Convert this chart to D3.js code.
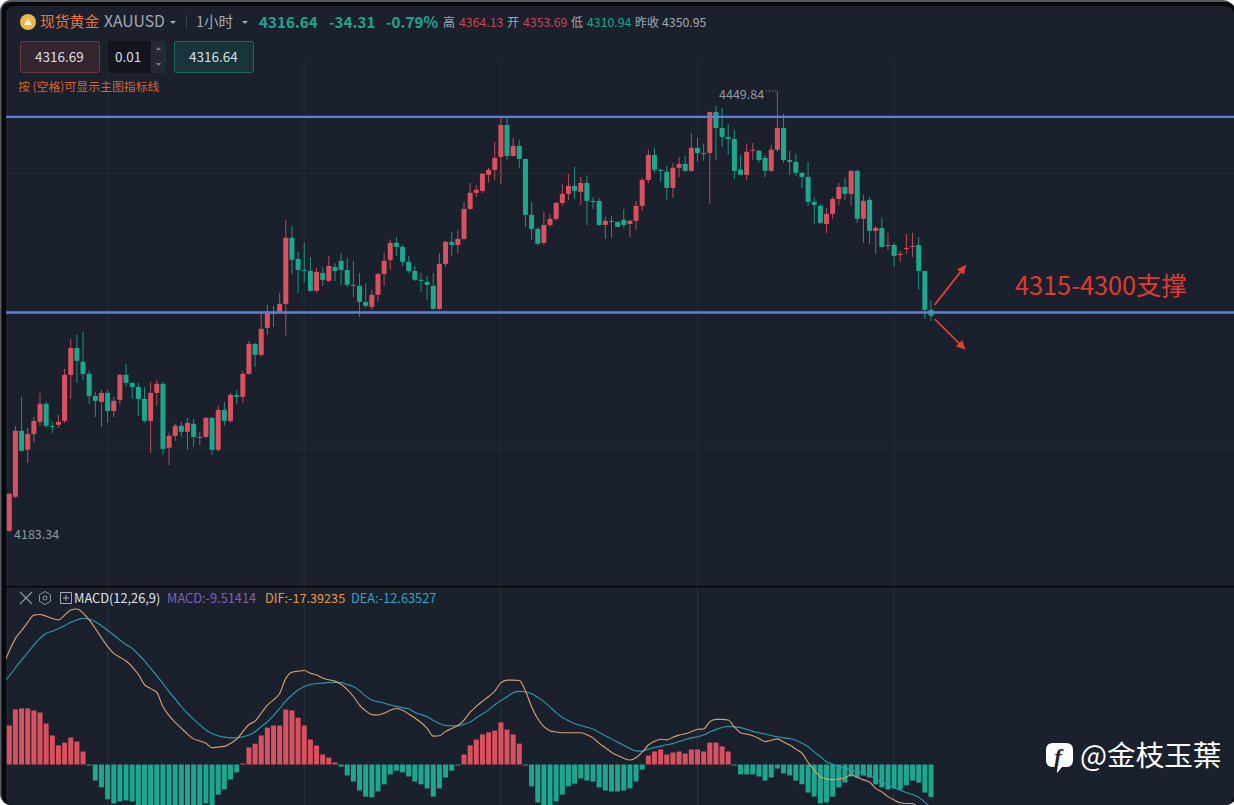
<!DOCTYPE html>
<html>
<head>
<meta charset="utf-8">
<script src="https://cdn.jsdelivr.net/npm/d3@7"></script>
<style>
html, body { margin: 0; padding: 0; background: #ffffff; overflow: hidden; }
svg { display: block; font-family: "Noto Sans CJK SC", "Noto Sans", sans-serif; }
</style>
</head>
<body>
<svg></svg>
<script>
// XAUUSD 1h candles, one value per bar
var opens = [
  4184.0,4204.6,4244.5,4233.0,4242.6,4249.9,4260.8,4247.5,4248.1,4250.5,
  4278.3,4294.6,4286.2,4278.9,4265.6,4262.0,4267.4,4256.5,4263.2,4278.3,
  4273.5,4271.0,4263.8,4250.5,4267.4,4272.9,4234.2,4241.4,4247.5,4243.9,
  4248.7,4240.2,4240.8,4252.3,4233.0,4257.1,4250.5,4266.2,4265.0,4278.9,
  4297.0,4290.4,4306.7,4315.2,4316.4,4321.2,4361.1,4348.4,4341.7,4341.1,
  4329.1,4339.9,4335.1,4343.5,4347.2,4341.7,4332.7,4332.1,4322.4,4319.4,
  4326.7,4339.3,4347.8,4358.1,4355.6,4346.6,4341.1,4335.7,4334.5,4332.1,
  4318.2,4345.4,4358.7,4356.8,4360.5,4378.6,4388.3,4389.5,4399.2,4402.2,
  4410.0,4429.3,4410.6,4416.7,4408.8,4375.0,4366.5,4358.1,4368.9,4372.6,
  4382.2,4387.7,4392.5,4388.9,4394.3,4383.4,4383.4,4368.9,4371.4,4370.8,
  4372.0,4369.5,4371.4,4380.4,4396.1,4411.2,4402.2,4401.0,4391.3,4403.4,
  4405.8,4401.6,4415.5,4412.4,4412.4,4437.2,4427.5,4422.1,4420.9,4402.2,
  4399.2,4413.7,4413.7,4409.4,4401.6,4414.3,4427.5,4408.2,4407.0,4400.4,
  4397.9,4382.8,4380.4,4369.5,4375.6,4384.6,4391.9,4387.7,4401.6,4372.6,
  4384.0,4365.3,4367.1,4356.2,4356.8,4350.8,4354.4,4355.6,4356.8,4341.1,
  4317.6];
var closes = [
  4206.4,4244.5,4232.4,4242.6,4250.5,4260.8,4247.5,4246.9,4249.9,4278.3,
  4294.6,4286.8,4278.9,4265.6,4262.6,4267.4,4256.5,4262.6,4278.3,4273.5,
  4271.0,4263.8,4250.5,4267.4,4272.9,4233.6,4241.4,4247.5,4243.9,4249.3,
  4240.8,4240.8,4252.3,4233.0,4257.1,4250.5,4266.2,4265.0,4278.9,4297.0,
  4290.4,4306.1,4316.4,4316.4,4321.2,4361.1,4347.8,4341.7,4341.1,4329.1,
  4340.5,4335.7,4344.1,4341.1,4341.7,4332.7,4332.1,4322.4,4320.0,4326.7,
  4339.3,4347.2,4358.1,4355.6,4346.6,4341.1,4335.7,4335.1,4332.7,4318.2,
  4345.4,4358.7,4356.8,4360.5,4378.6,4388.3,4390.1,4399.8,4402.2,4409.4,
  4429.3,4410.6,4416.7,4408.8,4375.0,4366.5,4357.5,4368.9,4372.6,4382.2,
  4387.7,4392.5,4389.5,4394.3,4383.4,4382.8,4368.9,4371.4,4370.8,4367.7,
  4368.9,4371.4,4380.4,4396.1,4411.2,4402.2,4401.6,4391.3,4403.4,4405.8,
  4401.6,4415.5,4412.4,4411.8,4437.2,4427.5,4422.1,4420.9,4401.6,4399.2,
  4413.1,4414.3,4408.2,4401.6,4414.3,4427.5,4408.2,4407.0,4400.4,4397.9,
  4382.8,4381.0,4370.1,4375.6,4384.6,4391.9,4387.7,4401.6,4372.6,4383.4,
  4365.3,4367.1,4355.6,4356.8,4350.2,4351.4,4355.0,4356.2,4341.1,4317.6,
  4314.0];
var highs = [
  4207.0,4247.5,4265.0,4246.3,4252.9,4267.4,4262.0,4249.9,4254.1,4281.9,
  4300.0,4302.5,4304.3,4280.7,4268.0,4269.2,4269.2,4265.0,4278.9,4284.9,
  4273.5,4273.5,4271.0,4274.1,4275.3,4274.1,4243.3,4248.7,4249.9,4252.3,
  4251.7,4243.9,4252.9,4252.9,4259.6,4262.0,4267.4,4269.2,4280.7,4298.8,
  4297.6,4315.8,4320.6,4320.0,4327.9,4372.0,4368.3,4352.6,4358.1,4349.6,
  4342.9,4343.5,4350.2,4346.0,4352.0,4349.0,4347.2,4339.9,4333.3,4329.7,
  4339.9,4352.0,4359.9,4361.7,4356.8,4350.2,4344.1,4339.9,4338.1,4339.9,
  4352.0,4359.3,4364.7,4365.9,4382.8,4394.3,4393.1,4400.4,4403.4,4419.1,
  4434.2,4433.6,4421.5,4420.3,4408.8,4382.8,4367.7,4376.8,4375.6,4382.8,
  4393.7,4399.8,4404.0,4397.9,4398.5,4385.8,4385.2,4373.8,4374.4,4370.8,
  4378.6,4372.0,4383.4,4397.3,4414.3,4415.5,4402.8,4404.6,4406.4,4410.0,
  4410.6,4424.5,4421.5,4417.9,4437.2,4440.8,4439.6,4430.0,4426.3,4411.2,
  4417.9,4418.5,4414.3,4411.2,4417.3,4449.84,4436.0,4413.7,4411.8,4401.0,
  4407.0,4385.2,4381.6,4379.2,4385.8,4394.3,4397.3,4402.2,4402.2,4387.1,
  4385.8,4368.3,4373.2,4364.1,4358.1,4353.2,4363.5,4364.1,4361.7,4341.1,
  4323.0];
var lows = [
  4183.34,4204.0,4231.8,4225.1,4237.2,4247.5,4246.3,4243.3,4246.3,4249.3,
  4263.8,4273.5,4275.3,4260.8,4252.9,4246.9,4249.3,4252.9,4260.2,4271.0,
  4263.8,4253.5,4249.3,4231.2,4259.6,4230.0,4223.9,4238.4,4240.8,4233.0,
  4234.8,4236.0,4240.2,4230.0,4231.8,4247.5,4249.3,4260.8,4261.4,4278.3,
  4283.1,4289.2,4302.5,4307.3,4315.8,4301.9,4339.3,4327.9,4333.9,4328.5,
  4327.9,4332.1,4334.5,4335.1,4332.7,4331.5,4325.4,4313.3,4318.8,4317.6,
  4322.4,4332.1,4341.7,4350.2,4344.1,4339.9,4335.1,4328.5,4323.6,4317.6,
  4317.6,4343.5,4350.2,4352.0,4359.9,4378.0,4385.8,4388.3,4394.3,4396.1,
  4393.7,4408.2,4410.0,4403.4,4367.7,4359.9,4356.8,4356.8,4367.7,4371.4,
  4380.4,4384.0,4384.6,4381.0,4368.9,4378.6,4368.3,4360.5,4361.1,4367.7,
  4367.1,4361.7,4365.9,4377.4,4394.3,4400.4,4394.9,4384.0,4385.2,4397.9,
  4401.0,4401.0,4407.0,4407.6,4381.6,4408.2,4416.1,4411.2,4396.7,4399.2,
  4396.1,4408.2,4406.4,4397.9,4401.0,4413.1,4406.4,4399.2,4398.5,4391.3,
  4380.4,4369.5,4369.5,4364.1,4372.6,4381.0,4384.0,4380.4,4370.1,4358.1,
  4357.5,4351.4,4355.0,4353.8,4343.5,4346.6,4351.4,4349.6,4329.7,4312.1,
  4310.94];

// MACD histogram, one value per bar
var macdBars = [
  11.4,16.1,16.4,16.4,15.8,15.2,12.0,8.5,5.6,6.4,
  7.9,6.7,3.8,-0.3,-4.7,-6.7,-10.2,-11.4,-10.8,-10.5,
  -10.8,-12.3,-12.9,-13.5,-13.5,-13.7,-14.0,-14.6,-14.6,-14.0,
  -13.5,-12.9,-11.4,-12.0,-8.8,-7.3,-4.4,-2.3,0.3,5.0,
  6.1,8.5,10.8,11.4,11.4,16.1,15.8,13.7,11.4,7.3,
  5.6,2.9,2.0,0.6,-0.6,-3.2,-5.0,-7.6,-9.4,-9.6,
  -7.9,-5.8,-2.9,-1.8,-2.3,-3.5,-5.0,-5.8,-7.0,-9.4,
  -7.0,-3.8,-1.8,-0.3,2.9,5.6,7.3,8.8,9.4,9.9,
  12.3,10.2,8.8,6.1,-0.3,-6.4,-11.1,-12.0,-12.3,-10.8,
  -8.8,-6.4,-5.6,-4.1,-4.7,-5.0,-6.7,-7.6,-7.9,-7.9,
  -7.6,-7.0,-5.0,-1.5,2.6,3.8,4.4,2.9,3.5,3.8,
  3.2,4.4,4.4,3.8,6.4,6.4,5.3,3.8,-0.3,-2.9,
  -2.9,-2.9,-3.5,-4.7,-3.8,-1.2,-2.6,-3.2,-4.7,-5.8,
  -8.2,-9.4,-11.4,-11.1,-9.4,-6.7,-5.3,-3.5,-3.8,-3.2,
  -3.8,-5.8,-6.7,-7.3,-7.0,-7.3,-6.1,-4.7,-5.3,-8.2,
  -9.51];
// DIF and DEA start one bar earlier, left of the first candle
var difLine = [
  29.1,33.2,36.9,39.2,41.6,43.7,43.9,43.4,42.7,42.3,43.7,
  45.2,45.5,44.3,42.3,39.8,37.1,34.5,32.5,31.4,30.3,
  28.6,26.4,23.4,22.2,21.1,16.9,14.3,12.3,10.6,8.9,
  7.5,6.9,6.2,4.9,5.1,5.3,6.2,7.4,9.6,11.7,
  12.7,15.0,17.4,18.9,20.8,25.2,27.0,27.3,27.5,26.7,
  26.2,25.3,24.8,24.4,23.5,21.9,19.9,17.4,15.7,14.6,
  14.5,15.0,15.9,16.4,15.9,14.8,13.6,12.3,10.6,8.3,
  8.4,9.7,10.5,11.4,13.0,15.3,17.0,18.5,19.9,21.5,
  23.9,24.7,24.7,24.6,21.5,16.9,13.4,11.1,9.9,9.5,
  9.3,9.3,9.3,9.3,8.7,7.8,6.2,4.9,3.6,2.6,
  1.8,1.3,2.0,3.6,5.7,6.8,7.4,7.2,8.0,8.6,
  9.0,9.6,10.3,10.4,12.5,13.2,13.2,13.0,11.0,9.3,
  8.9,8.4,7.6,6.7,7.1,7.5,6.6,5.7,4.5,3.3,
  0.6,-1.6,-3.6,-4.2,-4.5,-4.2,-3.9,-3.0,-3.8,-4.5,
  -5.1,-7.0,-8.0,-9.4,-10.4,-11.2,-11.4,-11.4,-12.8,-15.1,
  -17.39];
var deaLine = [
  24.0,25.9,28.3,30.6,32.7,35.0,36.9,38.4,39.0,39.8,40.6,
  41.6,42.3,42.8,42.6,41.8,40.6,39.3,37.9,36.4,35.1,
  34.0,32.2,30.3,28.1,26.0,23.7,21.3,19.2,16.9,15.0,
  13.2,11.6,10.1,9.1,8.4,8.0,7.8,7.8,8.1,8.6,
  9.6,11.1,12.5,14.3,16.4,18.6,20.3,21.8,22.8,23.4,
  23.7,23.8,24.0,24.0,24.0,23.4,22.8,21.6,20.0,18.9,
  18.4,18.0,17.4,17.0,16.6,16.3,15.3,14.6,14.0,12.9,
  12.0,11.4,11.3,11.3,11.8,12.4,13.7,14.8,16.0,17.4,
  18.7,19.8,21.0,21.4,21.3,20.7,19.6,18.4,16.8,15.2,
  13.8,12.8,12.0,11.4,10.9,10.4,9.4,8.4,7.5,6.5,
  5.6,4.7,4.0,3.9,4.5,5.0,5.3,5.8,6.1,6.7,
  7.3,7.8,8.1,8.6,9.5,10.2,10.8,11.2,11.0,10.8,
  10.3,9.7,9.3,8.9,8.5,8.1,7.8,7.6,7.1,6.2,
  5.2,3.7,2.3,0.8,0.1,-0.6,-1.1,-1.6,-2.1,-2.6,
  -3.2,-4.2,-5.1,-6.1,-6.8,-7.5,-8.2,-8.8,-9.6,-11.0,
  -12.64];

var gridBars = [16, 48, 80, 112, 144];
var gridPrices = [4400, 4317, 4234];
var supportLines = [4434.2, 4316.0];
// annotation arrows: bar and price at both ends
var arrowStartBar = [150.6, 150.6], arrowStartPrice = [4320.6, 4312.0];
var arrowEndBar = [155.6, 155.5], arrowEndPrice = [4344.3, 4294.0];

var width = 1234, height = 805;
var bg = "#1a212d", up = "#d9515f", down = "#1fa68f";

var svg = d3.select("svg").attr("width", width).attr("height", height);

var defs = svg.append("defs");
defs.append("clipPath").attr("id", "plot").append("rect")
    .attr("x", 6).attr("y", 6).attr("width", width - 6).attr("height", height - 6);
defs.append("marker").attr("id", "arrowHead")
    .attr("viewBox", "0 0 10 10").attr("refX", 9).attr("refY", 5)
    .attr("markerWidth", 10).attr("markerHeight", 9)
    .attr("markerUnits", "userSpaceOnUse").attr("orient", "auto")
    .append("path").attr("d", "M0,0L10,5L0,10Z").attr("fill", "#e0402f");

// window frame
svg.append("rect").attr("width", width).attr("height", height).attr("fill", "#ffffff");
svg.append("rect").attr("width", width).attr("height", height).attr("rx", 11).attr("fill", "#55585e");
svg.append("rect").attr("x", 1.5).attr("y", 2).attr("width", width).attr("height", height - 2)
    .attr("rx", 9).attr("fill", "#05070b");
svg.append("path").attr("fill", bg)
    .attr("d", "M14,6H1224Q1234,6 1234,16V795Q1234,805 1224,805H14Q6,805 6,797V14Q6,6 14,6Z");

var xScale = d3.scaleLinear().domain([0, 150]).range([9.3, 931]);
var yScale = d3.scaleLinear().domain([4183.34, 4449.84]).range([532, 91]);
var macdScale = d3.scaleLinear().domain([0, -9.51]).range([764.5, 797]);
var bodyWidth = 5;

// pane divider
svg.append("rect").attr("x", 6).attr("y", 586).attr("width", width - 6).attr("height", 1.5).attr("fill", "#06080c");

var plot = svg.append("g").attr("clip-path", "url(#plot)");

// grid
plot.append("g").selectAll("line").data(gridBars).enter().append("line")
    .attr("x1", function(d) { return xScale(d); })
    .attr("x2", function(d) { return xScale(d); })
    .attr("y1", 60).attr("y2", 586)
    .attr("stroke", "#232b38").attr("stroke-width", 1);
plot.append("g").selectAll("line").data(gridBars).enter().append("line")
    .attr("x1", function(d) { return xScale(d); })
    .attr("x2", function(d) { return xScale(d); })
    .attr("y1", 588).attr("y2", height)
    .attr("stroke", "#2a3240").attr("stroke-width", 1);
plot.append("g").selectAll("line").data(gridPrices).enter().append("line")
    .attr("x1", 6).attr("x2", width)
    .attr("y1", function(d) { return yScale(d); })
    .attr("y2", function(d) { return yScale(d); })
    .attr("stroke", "#232b38").attr("stroke-width", 1);

// candles
var candles = plot.append("g").selectAll("g").data(d3.range(opens.length)).enter().append("g")
    .attr("fill", function(i) { return closes[i] >= opens[i] ? up : down; })
    .attr("stroke", function(i) { return closes[i] >= opens[i] ? up : down; });
candles.append("line")
    .attr("x1", function(i) { return xScale(i); })
    .attr("x2", function(i) { return xScale(i); })
    .attr("y1", function(i) { return yScale(highs[i]); })
    .attr("y2", function(i) { return yScale(lows[i]); })
    .attr("stroke-opacity", 0.85)
    .attr("stroke-width", 1);
candles.append("rect")
    .attr("stroke", "none")
    .attr("x", function(i) { return xScale(i) - bodyWidth / 2; })
    .attr("width", bodyWidth)
    .attr("y", function(i) { return yScale(Math.max(opens[i], closes[i])); })
    .attr("height", function(i) { return Math.max(1, Math.abs(yScale(opens[i]) - yScale(closes[i]))); });

// support levels
plot.append("g").selectAll("line").data(supportLines).enter().append("line")
    .attr("x1", 6).attr("x2", width)
    .attr("y1", function(d) { return yScale(d); })
    .attr("y2", function(d) { return yScale(d); })
    .attr("stroke", "#5d80e0").attr("stroke-width", 2.4);

// arrows
plot.append("g").selectAll("line").data(arrowEndBar).enter().append("line")
    .attr("x1", function(d, i) { return xScale(arrowStartBar[i]); })
    .attr("y1", function(d, i) { return yScale(arrowStartPrice[i]); })
    .attr("x2", function(d) { return xScale(d); })
    .attr("y2", function(d, i) { return yScale(arrowEndPrice[i]); })
    .attr("stroke", "#e0402f").attr("stroke-width", 1.8)
    .attr("marker-end", "url(#arrowHead)");

// macd histogram
plot.append("g").selectAll("rect").data(macdBars).enter().append("rect")
    .attr("x", function(d, i) { return xScale(i) - bodyWidth / 2; })
    .attr("width", bodyWidth)
    .attr("y", function(d) { return d >= 0 ? macdScale(d) : macdScale(0); })
    .attr("height", function(d) { return Math.abs(macdScale(d) - macdScale(0)); })
    .attr("fill", function(d) { return d >= 0 ? up : down; });

// macd lines
var macdLine = d3.line()
    .x(function(d, i) { return xScale(i - 1); })
    .y(function(d) { return macdScale(d); })
    .curve(d3.curveMonotoneX);
plot.append("path").attr("d", macdLine(deaLine)).attr("fill", "none")
    .attr("stroke", "#2f9ab6").attr("stroke-width", 1.1);
plot.append("path").attr("d", macdLine(difLine)).attr("fill", "none")
    .attr("stroke", "#dba26f").attr("stroke-width", 1.1);

function label(x, y, str, size, fill, weight) {
   return svg.append("text").attr("x", x).attr("y", y).text(str)
      .attr("font-size", size).attr("fill", fill).attr("font-weight", weight || 400);
}

// top bar
svg.append("circle").attr("cx", 28).attr("cy", 22).attr("r", 8).attr("fill", "#e8b64c");
svg.append("path").attr("d", "M24,25L28,18L32,25Z").attr("fill", "#fbeec4");
label(40, 27, "现货黄金", 14.8, "#e8743f");
label(104, 27, "XAUUSD", 15.7, "#a2a8b2");
svg.append("path").attr("d", "M170,21h6l-3,3Z").attr("fill", "#a2a8b2");
svg.append("rect").attr("x", 186).attr("y", 15).attr("width", 1).attr("height", 14).attr("fill", "#3a424f");
label(196, 27, "1小时", 14.5, "#a2a8b2");
svg.append("path").attr("d", "M242,21h6l-3,3Z").attr("fill", "#a2a8b2");
label(259, 27.5, "4316.64", 15.2, down, 700);
label(329, 27.5, "-34.31", 15.2, down, 700);
label(386, 27.5, "-0.79%", 15.2, down, 700);
label(443, 27, "高", 12, "#a2a8b2");
label(459, 27, "4364.13", 12.3, "#c84653");
label(507, 27, "开", 12, "#a2a8b2");
label(523, 27, "4353.69", 12.3, "#c84653");
label(571, 27, "低", 12, "#a2a8b2");
label(587, 27, "4310.94", 12.3, down);
label(635, 27, "昨收", 12, "#a2a8b2");
label(662, 27, "4350.95", 12.3, "#a2a8b2");

// order boxes
svg.append("rect").attr("x", 20.5).attr("y", 41.5).attr("width", 79).attr("height", 31).attr("rx", 2)
    .attr("fill", "#35252f").attr("stroke", "#6b3a44");
svg.append("rect").attr("x", 108).attr("y", 41).attr("width", 43).attr("height", 32).attr("rx", 2).attr("fill", "#10151e");
svg.append("rect").attr("x", 151).attr("y", 41).attr("width", 15).attr("height", 32).attr("fill", "#232a36");
svg.append("path").attr("d", "M156,50h5l-2.5,-3Z M156,63h5l-2.5,3Z").attr("fill", "#79808c");
svg.append("rect").attr("x", 174.5).attr("y", 41.5).attr("width", 79).attr("height", 31).attr("rx", 2)
    .attr("fill", "#18333a").attr("stroke", "#1f6a60");
label(35, 62, "4316.69", 13.5, "#dcdfe4");
label(115, 62, "0.01", 13.5, "#dcdfe4");
label(189, 62, "4316.64", 13.5, "#dcdfe4");
label(18, 91, "按 (空格)可显示主图指标线", 11.9, "#d9622f");

// high and low marks
label(719, 99, "4449.84", 12.5, "#8f96a2");
svg.append("line").attr("x1", 766).attr("x2", xScale(125)).attr("y1", yScale(4449.84)).attr("y2", yScale(4449.84))
    .attr("stroke", "#8f96a2").attr("stroke-dasharray", "1,2");
label(14, 539, "4183.34", 12.5, "#8f96a2");

// annotation
label(1015, 295, "4315-4300支撑", 25.3, "#e0392f");

// macd header
svg.append("path").attr("d", "M20,592L32,604M32,592L20,604").attr("stroke", "#8f96a2").attr("stroke-width", 1.2);
svg.append("path").attr("d", "M45,591.5L50.5,594.7V601.3L45,604.5L39.5,601.3V594.7Z").attr("fill", "none").attr("stroke", "#8f96a2");
svg.append("circle").attr("cx", 45).attr("cy", 598).attr("r", 2).attr("fill", "none").attr("stroke", "#8f96a2");
svg.append("rect").attr("x", 60.5).attr("y", 592.5).attr("width", 11).attr("height", 11).attr("fill", "none").attr("stroke", "#a2a8b2");
svg.append("path").attr("d", "M63,598h6M66,595v6").attr("stroke", "#a2a8b2");
label(74, 603, "MACD(12,26,9)", 12.8, "#dfe2e7");
label(167, 603, "MACD:-9.51414", 12.8, "#7b62b8");
label(265, 603, "DIF:-17.39235", 12.7, "#e39a4e");
label(351, 603, "DEA:-12.63527", 12.8, "#2ea4c6");

// watermark
svg.append("path").attr("fill", "#ffffff")
    .attr("d", "M1053,743H1066Q1073,743 1073,750V760Q1073,767 1066,767H1062L1057,773V767H1053Q1046,767 1046,760V750Q1046,743 1053,743Z");
label(1054, 765, "f", 23, "#1a212d", 700).attr("font-style", "italic").attr("font-family", "'Liberation Serif', serif");
label(1080, 766, "@金枝玉葉", 28.6, "#ffffff").attr("font-family", "'Noto Sans CJK TC', sans-serif");
</script>
</body>
</html>
